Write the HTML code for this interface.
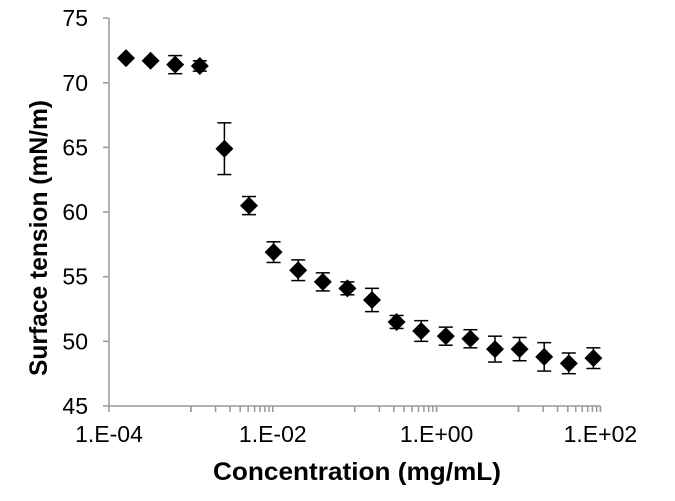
<!DOCTYPE html>
<html><head><meta charset="utf-8"><style>
html,body{margin:0;padding:0;background:#fff;}
svg{display:block;font-family:"Liberation Sans",Arial,sans-serif;}
</style></head><body>
<svg id="s" width="675" height="501" viewBox="0 0 675 501" xmlns="http://www.w3.org/2000/svg">
<rect width="675" height="501" fill="#fff"/>
<g id="axes" stroke="#999" stroke-width="1.5" fill="none"></g>
<g id="lbl" font-size="23" fill="#000"></g>
<text x="357" y="480" font-size="25" font-weight="bold" text-anchor="middle" textLength="288" lengthAdjust="spacingAndGlyphs">Concentration (mg/mL)</text>
<text transform="translate(47,238) rotate(-90)" font-size="25" font-weight="bold" text-anchor="middle" textLength="276" lengthAdjust="spacingAndGlyphs">Surface tension (mN/m)</text>
<g id="pts"></g>
</svg>
<script>
var NS="http://www.w3.org/2000/svg";
function el(p,t,a,txt){var e=document.createElementNS(NS,t);for(var k in a)e.setAttribute(k,a[k]);if(txt!==undefined)e.textContent=txt;document.getElementById(p).appendChild(e);return e;}
var X0=109,DEC=81.9,Y0=406,PY=12.93;
function xs(l){return X0+(l+4)*DEC;}
function ys(v){return Y0-(v-45)*PY;}
el("axes","line",{x1:X0,y1:18,x2:X0,y2:Y0});
el("axes","line",{x1:X0,y1:Y0,x2:xs(2),y2:Y0});
for(var v=45;v<=75;v+=5){var y=ys(v);el("axes","line",{x1:X0-6,y1:y,x2:X0,y2:y});el("lbl","text",{x:88,y:y+8,"text-anchor":"end"},String(v));}
for(var d=-4;d<=2;d++){var x=xs(d);el("axes","line",{x1:x,y1:Y0,x2:x,y2:Y0+6});}
[-3,-1,1].forEach(function(d){for(var m=1;m<=10;m++){var x=xs(d+Math.log10(m));el("axes","line",{x1:x,y1:Y0,x2:x,y2:Y0+6});}});
[["1.E-04",-4],["1.E-02",-2],["1.E+00",0],["1.E+02",2]].forEach(function(a){el("lbl","text",{x:xs(a[1]),y:442,"text-anchor":"middle"},a[0]);});
var data=[[71.9,0],[71.7,0],[71.4,0.7],[71.3,0.4],[64.9,2.0],[60.5,0.7],[56.9,0.8],[55.5,0.8],[54.6,0.7],[54.1,0.5],[53.2,0.9],[51.5,0.5],[50.8,0.8],[50.4,0.7],[50.2,0.7],[49.4,1.0],[49.4,0.9],[48.8,1.1],[48.3,0.8],[48.7,0.8]];
data.forEach(function(p,i){var x=126+24.6*i,y=ys(p[0]);
 if(p[1]>0){var y1=ys(p[0]+p[1]),y2=ys(p[0]-p[1]);
  el("pts","line",{x1:x,y1:y1,x2:x,y2:y2,stroke:"#000","stroke-width":1.5});
  el("pts","line",{x1:x-7,y1:y1,x2:x+7,y2:y1,stroke:"#000","stroke-width":1.5});
  el("pts","line",{x1:x-7,y1:y2,x2:x+7,y2:y2,stroke:"#000","stroke-width":1.5});}
 el("pts","polygon",{points:(x-9)+","+y+" "+x+","+(y-9)+" "+(x+9)+","+y+" "+x+","+(y+9),fill:"#000"});
});
</script>
</body></html>
